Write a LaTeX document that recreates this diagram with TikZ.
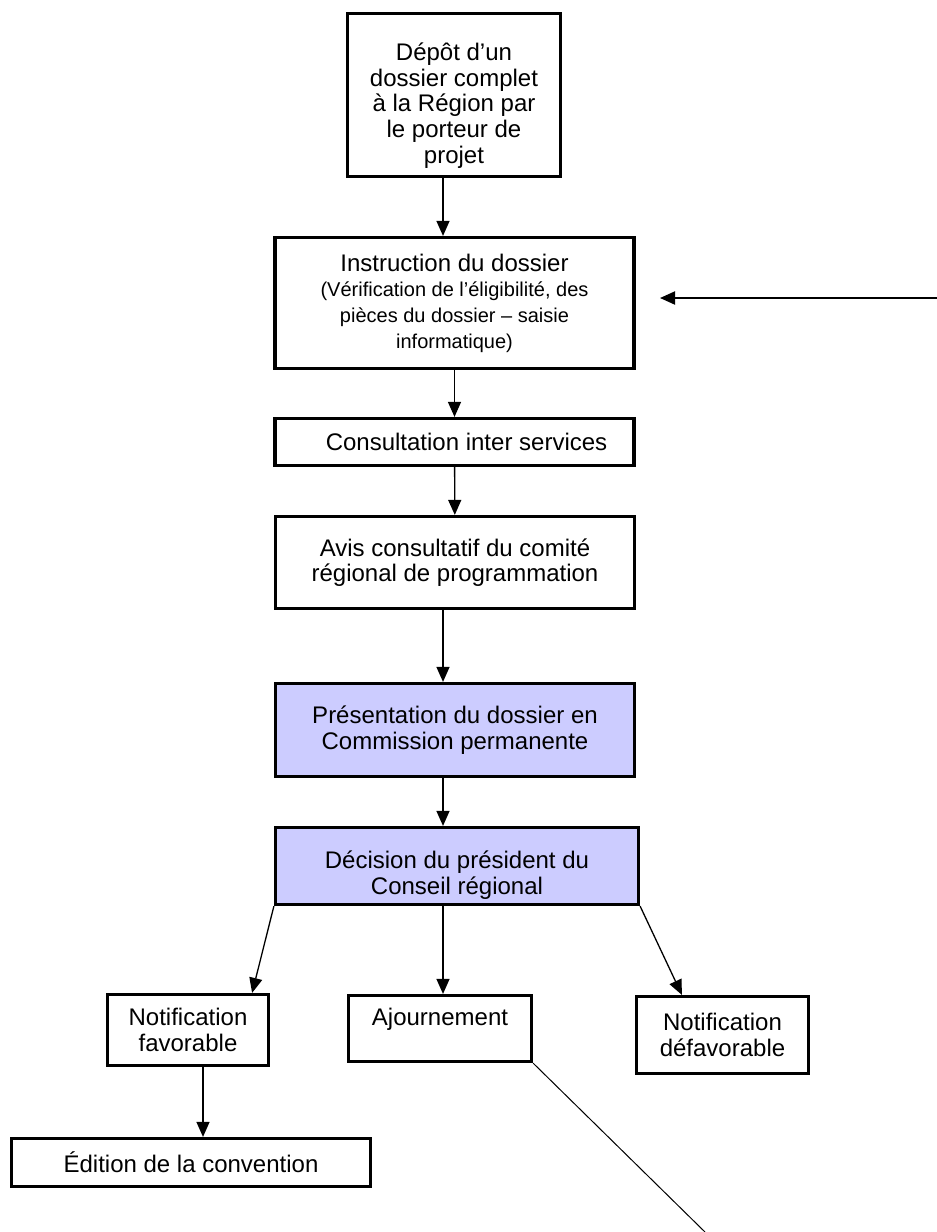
\documentclass[tikz,border=0pt]{standalone}
\usepackage{fontspec}
\setmainfont{Liberation Sans}
\usetikzlibrary{arrows.meta, positioning, calc}
\definecolor{lavande}{HTML}{CCCCFF}
\newcommand{\petit}{\fontsize{10}{13}\selectfont}
\tikzset{
  >={Triangle[width=6.5pt,length=7.5pt]},
  etape/.style  = {draw, line width=1.6pt, inner sep=2pt, align=center,
                   font=\fontsize{12}{12.8}\selectfont},
  cp/.style     = {etape, fill=lavande},
  fleche/.style = {->, line width=0.65pt},
  trait/.style  = {line width=0.5pt},
}

\begin{document}
\begin{tikzpicture}[x=0.5pt, y=-0.5pt]
  \useasboundingbox (0,0) rectangle (937,1232);

  % =====================================================================
  % main column
  % =====================================================================
  \node[etape, minimum width=106.5pt, minimum height=81.5pt, text height=70.5pt]
    (depot) at (454,95) {Dépôt d’un\\dossier complet\\à la Région par\\le porteur de\\projet};
  \node[etape, minimum width=179.5pt, minimum height=65.5pt]
    (instr) at (454.5,303) {Instruction du dossier\\{\petit (Vérification de l’éligibilité, des}\\{\petit pièces du dossier – saisie}\\{\petit informatique)}};
  \node[etape, minimum width=179.5pt, minimum height=23.5pt]
    (consult) at (454.5,442) {\hspace{12pt}Consultation inter services};
  \node[etape, minimum width=179.5pt, minimum height=46pt]
    (avis) at (455,562.5) {Avis consultatif du comité\\régional de programmation};
  \node[cp, minimum width=179.5pt, minimum height=46.5pt]
    (pres) at (455,730) {Présentation du dossier en\\Commission permanente};
  \node[cp, minimum width=181.5pt, minimum height=38.5pt, text height=31pt]
    (dec) at (457,866) {Décision du président du\\Conseil régional};

  % =====================================================================
  % outcomes
  % =====================================================================
  \node[etape, minimum width=80.5pt, minimum height=35.5pt]
    (fav) at (188,1030) {Notification\\favorable};
  \node[etape, minimum width=91.5pt, minimum height=33pt, text depth=12pt]
    (ajourn) at (440,1028.5) {Ajournement};
  \node[etape, minimum width=86pt, minimum height=38.5pt]
    (defav) at (722.5,1035) {Notification\\défavorable};
  \node[etape, minimum width=179.5pt, minimum height=24pt]
    (edit) at (191,1162.5) {Édition de la convention};

  % =====================================================================
  % connectors
  % =====================================================================
  \coordinate (axe) at (443,0);
  \coordinate (axefav) at (203,0);
  \draw[fleche] (depot.south -| axe) -- (instr.north -| axe);
  \draw[fleche] (instr) -- (consult);
  \draw[fleche] (consult) -- (avis);
  \foreach \a/\b in {avis/pres, pres/dec, dec/ajourn}
    \draw[fleche] (\a.south -| axe) -- (\b.north -| axe);
  \draw[fleche] (dec.south west) -- ([xshift=-9pt]fav.north east);
  \draw[fleche] (dec.south east) -- ([xshift=23.5pt]defav.north west);
  \draw[fleche] (fav.south -| axefav) -- (edit.north -| axefav);

  % return arrow into the instruction step, and the line leaving Ajournement
  \coordinate (retour) at (937,298);
  \coordinate (retourfin) at (660,298);
  \draw[fleche, line width=1pt] (retour) -- (retourfin);
  \coordinate (bas) at (705,1232);
  \draw[trait] (ajourn.south east) -- (bas);
\end{tikzpicture}
\end{document}
